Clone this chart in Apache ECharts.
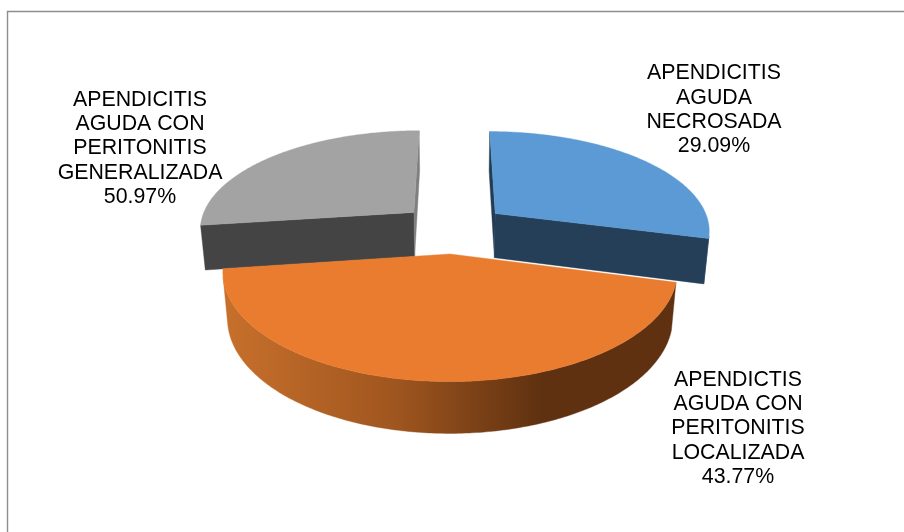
<!DOCTYPE html>
<html>
<head>
<meta charset="utf-8">
<style>html,body{margin:0;padding:0;background:#fff}#c{width:904px;height:532px}</style>
<script src="https://cdn.jsdelivr.net/npm/echarts@6/dist/echarts.min.js"></script>
</head>
<body>
<div id="c"></div>
<script>
// Data. Slice sizes follow the drawn angles; the printed
// percentage of the grey slice differs from its drawn share in the reference.
var categories = [
  'APENDICITIS\nAGUDA\nNECROSADA',
  'APENDICTIS\nAGUDA CON\nPERITONITIS\nLOCALIZADA',
  'APENDICITIS\nAGUDA CON\nPERITONITIS\nGENERALIZADA'
];
var sliceShares = [29.09, 43.77, 27.14];
var printedPercents = ['29.09%', '43.77%', '50.97%'];

// Styles and view
var topColors = ['#5b9ad5', '#ea7c30', '#a3a3a3'];
var wallColors = ['#243f57', null, '#444444'];
var startCutColors = ['#233c54', '#5f3110', '#444444'];
var endCutColors = ['#243f57', '#5f3110', '#7f7f7f'];
var layerOrder = [10, 20, 0];
var labelCenters = [[714, 110], [738, 428.5], [140, 148.5]];

var view = { cx: 453.5, cy: 228.3, S: 215.5, sin: 0.459, cos: 0.888, p: 0.1745, h: 0.239, explode: 0.25 };
var cameraY = view.cos / view.p;

function project(X, Y, Z) {
  var d = 1 - view.p * view.cos * Y + view.p * view.sin * Z;
  return [view.cx + view.S * X / d, view.cy + view.S * (Y * view.sin + Z * view.cos) / d];
}

var total = sliceShares.reduce(function (s, v) { return s + v; }, 0);

function renderItem(params, api) {
  var i = api.value(0);
  var before = 0;
  for (var k = 0; k < i; k++) before += sliceShares[k];
  var a0 = before / total * 2 * Math.PI;
  var a1 = (before + api.value(1)) / total * 2 * Math.PI;
  var mid = (a0 + a1) / 2;
  var ox = Math.sin(mid) * view.explode;
  var oy = -Math.cos(mid) * view.explode;

  function rim(a, z) { return project(ox + Math.sin(a), oy - Math.cos(a), z); }
  function facesCamera(nx, ny, px, py) { return nx * (0 - px) + ny * (cameraY - py) > 0; }

  var topArc = [], wallTop = [], wallBot = [];
  var n = Math.ceil((a1 - a0) / (Math.PI / 240));
  for (var j = 0; j <= n; j++) {
    var a = a0 + (a1 - a0) * j / n;
    topArc.push(rim(a, 0));
    if (facesCamera(Math.sin(a), -Math.cos(a), ox + Math.sin(a), oy - Math.cos(a))) {
      wallTop.push(rim(a, 0));
      wallBot.push(rim(a, view.h));
    }
  }
  var apexTop = project(ox, oy, 0), apexBot = project(ox, oy, view.h);
  var z = layerOrder[i];

  function poly(points, fill, order) {
    return { type: 'polygon', shape: { points: points }, z2: z + order,
      style: { fill: fill, stroke: fill, lineWidth: 0.4 }, silent: true };
  }
  var wallFill = wallColors[i] || new echarts.graphic.LinearGradient(223, 0, 672, 0, [
    { offset: 0, color: '#c8702c' },
    { offset: 0.38, color: '#a0561f' },
    { offset: 0.71, color: '#5f3110' },
    { offset: 1, color: '#5f3110' }
  ], true);

  var children = [];
  if (facesCamera(-Math.cos(a0), -Math.sin(a0), ox, oy)) {
    children.push(poly([apexTop, rim(a0, 0), rim(a0, view.h), apexBot], startCutColors[i], 1));
  }
  if (facesCamera(Math.cos(a1), Math.sin(a1), ox, oy)) {
    children.push(poly([apexTop, rim(a1, 0), rim(a1, view.h), apexBot], endCutColors[i], 2));
  }
  if (wallTop.length > 1) {
    children.push(poly(wallTop.concat(wallBot.slice().reverse()), wallFill, 3));
  }
  children.push(poly([apexTop].concat(topArc), topColors[i], 4));

  var pos = labelCenters[i];
  children.push({
    type: 'text', x: pos[0], y: pos[1], z2: 100, silent: true,
    style: {
      text: categories[i] + '\n' + printedPercents[i],
      fill: '#000000', font: '21.33px "Liberation Sans", Arial, sans-serif',
      lineHeight: 24.4, align: 'center', verticalAlign: 'middle'
    }
  });
  return { type: 'group', children: children };
}

var chart = echarts.init(document.getElementById('c'), null, { renderer: 'canvas' });
chart.setOption({
  animation: false,
  backgroundColor: '#ffffff',
  graphic: [{
    type: 'rect', silent: true,
    shape: { x: 7.5, y: 11.5, width: 1000, height: 700 },
    style: { fill: 'none', stroke: '#8e8e8e', lineWidth: 1.4 }
  }],
  series: [{
    type: 'custom',
    coordinateSystem: 'none',
    renderItem: renderItem,
    data: sliceShares.map(function (v, i) { return [i, v]; })
  }]
});
</script>
</body>
</html>
